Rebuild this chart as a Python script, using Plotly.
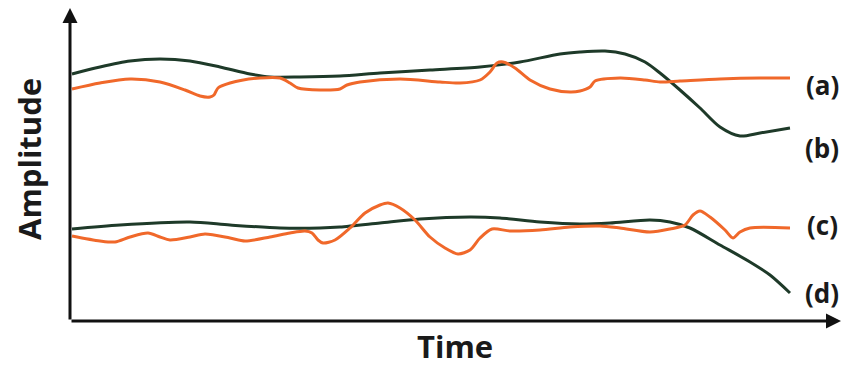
import plotly.graph_objects as go

# Time axis values (arbitrary units) and amplitudes of each trace
t_a = [0.2, 3.0, 6.0, 9.0, 11.5, 13.0, 14.0, 14.4, 14.8, 16.0, 19.0, 21.0, 22.0, 22.8, 25.0, 27.0, 27.7, 29.0,
       33.0, 37.0, 39.0, 41.0, 42.0, 42.7, 43.3, 44.5, 46.0, 48.0, 50.0, 51.0, 52.0, 52.5, 55.0, 57.5, 59.0,
       61.0, 65.0, 69.0, 72.0]
amp_a = [23.2, 23.8, 24.2, 23.9, 23.1, 22.5, 22.4, 22.6, 23.3, 23.8, 24.3, 24.3, 23.8, 23.3, 23.1, 23.2, 23.6, 23.9,
         24.2, 23.9, 23.8, 24.1, 24.9, 25.8, 25.9, 25.3, 24.1, 23.2, 22.9, 23.0, 23.4, 24.0, 24.3, 24.1, 23.9,
         24.0, 24.2, 24.3, 24.3]

t_b = [0.2, 3.0, 6.0, 9.0, 12.0, 15.0, 18.0, 20.0, 23.0, 27.0, 31.0, 36.0, 41.0, 45.0, 49.0, 51.0, 53.5, 55.5,
       57.5, 59.0, 61.0, 63.0, 65.0, 67.0, 69.0, 72.0]
amp_b = [24.7, 25.4, 26.0, 26.2, 26.0, 25.4, 24.7, 24.4, 24.4, 24.5, 24.8, 25.1, 25.4, 25.9, 26.7, 26.9, 27.0, 26.7,
         25.9, 24.8, 23.1, 21.3, 19.4, 18.5, 18.8, 19.3]

t_c = [0.2, 3.0, 4.5, 6.0, 7.8, 9.0, 10.0, 12.0, 13.5, 16.0, 17.5, 20.0, 22.0, 23.5, 24.2, 24.8, 25.3, 26.5, 28.0,
       29.5, 31.0, 31.8, 33.0, 34.5, 36.0, 37.5, 38.8, 40.0, 41.0, 42.2, 44.0, 47.0, 50.0, 53.0, 55.0, 58.0, 60.0,
       61.5, 62.3, 63.0, 64.0, 65.5, 66.3, 67.0, 68.0, 72.0]
amp_c = [8.5, 8.0, 7.9, 8.4, 8.8, 8.4, 8.1, 8.4, 8.7, 8.3, 8.0, 8.4, 8.8, 9.0, 8.8, 8.1, 7.8, 8.1, 9.3,
         10.8, 11.6, 11.8, 11.3, 10.1, 8.4, 7.3, 6.7, 7.1, 8.3, 9.2, 9.0, 9.1, 9.4, 9.5, 9.3, 8.9, 9.2,
         9.6, 10.6, 11.0, 10.4, 9.1, 8.3, 8.9, 9.3, 9.3]

t_d = [0.2, 5.0, 12.0, 16.0, 21.0, 25.0, 27.0, 31.0, 35.0, 40.0, 43.0, 47.0, 51.0, 54.0, 58.0, 60.0, 62.0, 65.0,
       68.0, 70.0, 72.0]
amp_d = [9.2, 9.6, 9.9, 9.6, 9.3, 9.3, 9.4, 9.8, 10.2, 10.4, 10.3, 9.9, 9.7, 9.8, 10.1, 9.9, 9.3, 7.6,
         5.9, 4.6, 2.8]

labels = ["(a)", "(b)", "(c)", "(d)"]
label_amp = [23.6, 17.3, 9.6, 2.8]

ORANGE = "#F0682A"
GREEN = "#1E3A29"
TEXT = "#1a1a1a"
FONT = "Open Sans"

fig = go.Figure()
for t, a, col in [(t_b, amp_b, GREEN), (t_a, amp_a, ORANGE), (t_d, amp_d, GREEN), (t_c, amp_c, ORANGE)]:
    fig.add_trace(go.Scatter(x=t, y=a, mode="lines",
                             line=dict(color=col, width=3, shape="spline", smoothing=0.8),
                             showlegend=False, hoverinfo="skip"))

# Axes drawn as arrows
fig.add_annotation(x=0, y=31.3, ax=0, ay=0, xref="x", yref="y", axref="x", ayref="y",
                   showarrow=True, arrowhead=2, arrowsize=1, arrowwidth=3, arrowcolor="#111", text="")
fig.add_annotation(x=77.1, y=0, ax=0, ay=0, xref="x", yref="y", axref="x", ayref="y",
                   showarrow=True, arrowhead=2, arrowsize=1, arrowwidth=3, arrowcolor="#111", text="")

for lab, a in zip(labels, label_amp):
    fig.add_annotation(x=75.2, y=a, xref="x", yref="y", text=lab, showarrow=False,
                       xanchor="center", yanchor="middle",
                       font=dict(family=FONT, size=26, color=TEXT, weight="bold"))

fig.add_annotation(x=29 / 843, y=1 - 159 / 370, xref="paper", yref="paper", text="Amplitude",
                   textangle=-90, showarrow=False, xanchor="center", yanchor="middle",
                   font=dict(family=FONT, size=31, color=TEXT, weight="bold"))
fig.add_annotation(x=455 / 843, y=0, xref="paper", yref="paper", text="Time",
                   showarrow=False, xanchor="center", yanchor="bottom", yshift=1,
                   font=dict(family=FONT, size=31, color=TEXT, weight="bold"))

fig.update_xaxes(range=[-7, 77.3], visible=False, domain=[0, 1])
fig.update_yaxes(range=[-4.9, 32.1], visible=False, domain=[0, 1])
fig.update_layout(width=843, height=370, margin=dict(l=0, r=0, t=0, b=0),
                  plot_bgcolor="white", paper_bgcolor="white")

fig.write_html("out.html")
